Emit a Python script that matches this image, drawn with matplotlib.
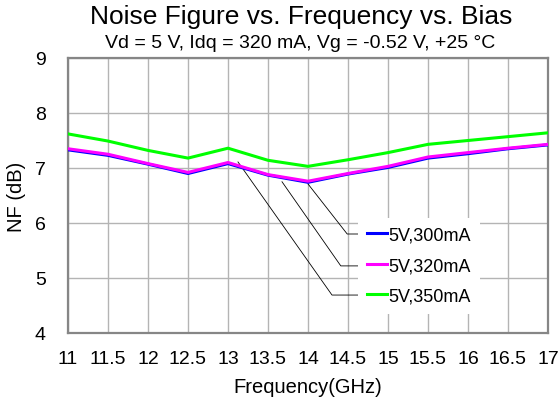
import numpy as np
import matplotlib
matplotlib.use("Agg")
import matplotlib.pyplot as plt

plt.rcParams['font.family'] = ['Liberation Sans', 'DejaVu Sans']

freq_ghz = [11, 11.5, 12, 12.5, 13, 13.5, 14, 14.5, 15, 15.5, 16, 16.5, 17]
nf_300ma = [7.33, 7.23, 7.07, 6.90, 7.08, 6.87, 6.74, 6.89, 7.01, 7.18, 7.26, 7.35, 7.42]
nf_320ma = [7.35, 7.25, 7.08, 6.92, 7.10, 6.88, 6.76, 6.90, 7.03, 7.20, 7.28, 7.36, 7.43]
nf_350ma = [7.62, 7.49, 7.32, 7.18, 7.36, 7.14, 7.03, 7.15, 7.28, 7.43, 7.50, 7.57, 7.64]
labels = ['5V,300mA', '5V,320mA', '5V,350mA']
colors = ['#0000ff', '#ff00ff', '#00ff00']

# leader lines: (start on curve, elbow, end at legend)
leaders = [
    [(14.0, 6.71), (14.49, 5.80), (14.63, 5.80)],
    [(13.675, 6.75), (14.41, 5.22), (14.63, 5.22)],
    [(13.125, 7.11), (14.30, 4.69), (14.63, 4.69)],
]

W, H = 559, 410
fig = plt.figure(figsize=(W / 100, H / 100), dpi=100)
fig.subplots_adjust(left=68 / W, right=548 / W, top=1 - 59 / H, bottom=1 - 334 / H)
ax = fig.add_subplot(111)

for vals, lab, col in zip([nf_300ma, nf_320ma, nf_350ma], labels, colors):
    ax.plot(freq_ghz, vals, color=col, linewidth=2.2, label=lab, zorder=3)

for pts in leaders:
    xs = [p[0] for p in pts]
    ys = [p[1] for p in pts]
    ax.plot(xs, ys, color='black', linewidth=0.6, zorder=2)

ax.set_xlim(11, 17)
ax.set_ylim(4, 9)
ax.set_xticks(np.arange(11, 17.01, 0.5))
ax.set_xticklabels(['11', '11.5', '12', '12.5', '13', '13.5', '14', '14.5',
                    '15', '15.5', '16', '16.5', '17'])
ax.set_yticks([4, 5, 6, 7, 8, 9])
ax.tick_params(axis='x', length=0, pad=12.5, labelsize=14)
ax.tick_params(axis='y', length=0, pad=16, labelsize=14)
ax.grid(True, color='#b4b4b4', linewidth=1.0, zorder=0)
for sp in ax.spines.values():
    sp.set_color('#868686')
    sp.set_linewidth(1.6)

ax.set_xlabel('Frequency(GHz)', fontsize=14.5, labelpad=7)
ax.set_ylabel('NF (dB)', fontsize=14.5, labelpad=6)

leg = ax.legend(loc='upper left', bbox_to_anchor=(0.604, 0.42), fontsize=13,
                frameon=True, fancybox=False, facecolor='white', edgecolor='none',
                framealpha=1.0, handlelength=1.1, handletextpad=0.1,
                labelspacing=0.75, borderpad=0.5, borderaxespad=0)
leg.set_zorder(2.5)

fig.text(301 / W, 1 - 17 / H, 'Noise Figure vs. Frequency vs. Bias', fontsize=19,
         ha='center', va='center')
fig.text(300 / W, 1 - 44 / H, 'Vd = 5 V, Idq = 320 mA, Vg = -0.52 V, +25 °C',
         fontsize=14, ha='center', va='center')

fig.savefig('out.png', dpi=100)
